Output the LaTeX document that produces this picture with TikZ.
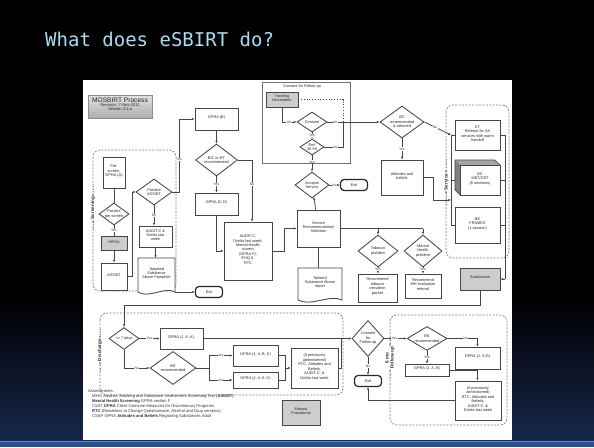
\documentclass[tikz,border=0pt]{standalone}
\usepackage{fontspec}
\setmainfont{Liberation Sans}
\newfontfamily\monof{DejaVu Sans Mono}
\usetikzlibrary{shapes.geometric,arrows.meta,fit,calc}
\definecolor{ttl}{RGB}{168,220,242}
\definecolor{navy}{RGB}{22,38,76}
\definecolor{bandb}{RGB}{44,78,138}
\definecolor{bandl}{RGB}{90,140,210}
\definecolor{lc}{RGB}{70,70,70}
\definecolor{gfill}{RGB}{205,205,205}
\tikzset{
 ft/.style={font=\fontsize{3.85}{4.45}\selectfont, text=black!85},
 box/.style={draw=lc, line width=0.85pt, fill=white, inner sep=0pt, align=center, ft},
 gbox/.style={box, fill=gfill},
 dia/.style={diamond, draw=lc, line width=0.85pt, fill=white, inner sep=0pt, align=center, ft},
 term/.style={draw=black!85, line width=1.2pt, fill=white, rounded corners=3.5pt, inner sep=0pt, minimum width=27pt, minimum height=11pt, ft},
 ln/.style={draw=lc, line width=0.75pt},
 arr/.style={ln, -{Latex[length=2.6pt,width=2.3pt]}},
 grp/.style={draw=black!50, line width=0.7pt, dash pattern=on 2pt off 1.4pt, rounded corners=7pt},
 lab/.style={fill=white, inner sep=0.4pt, font=\fontsize{3.4}{3.8}\selectfont, text=black!80},
 glab/.style={fill=white, inner sep=0.6pt, rotate=90, align=center, font=\bfseries\fontsize{4.6}{5.2}\selectfont, text=black!85},
 dtip/.style={draw=black!50, dotted, line width=0.7pt, -{Latex[length=2pt,width=2pt]}},
 docline/.style={draw=lc, line width=0.85pt, fill=white},
}
\newcommand\docshape[6]{%
 \draw[docline] (#2,#3) -- (#4,#3) -- (#4,{#5-1}) .. controls ({#2+0.72*(#4-#2)},{#5-7}) and ({#2+0.3*(#4-#2)},{#5+6}) .. (#2,{#5-1}) -- cycle;
 \node[ft, align=center, inner sep=0pt] (#1) at ({(#2+#4)/2},{(#3+#5)/2-2}) {#6};
 \coordinate (#1-n) at ({(#2+#4)/2},#3);
 \coordinate (#1-c) at (#4,{#5-1});
}
\begin{document}
\begin{tikzpicture}[x=1pt,y=-1pt]
\useasboundingbox (0,0) rectangle (594,447);
\fill[black] (0,0) rectangle (594,447);
\shade[top color=black, bottom color=navy] (0,300) rectangle (594,441);
\fill[bandb] (0,441) rectangle (594,447);
\draw[bandl, line width=0.8pt] (0,441.4) -- (594,441.4);
\node[anchor=base west, inner sep=0pt, text=ttl, font=\monof\fontsize{19}{22}\selectfont] (title) at (45,46) {What does eSBIRT do?};
\fill[white] (83,80) rectangle (512,440);

% group frames
\draw[grp] (93,150) rectangle (176,291);
\draw[grp] (446,105) rectangle (509,258);
\draw[grp] (100,313) rectangle (343,395);
\draw[grp] (390,315) rectangle (507,425);
\node[box, draw=black!55, line width=0.9pt, fit={(262,82) (350,163)}] (cfu) {};
\node[ft] (cfulab) at (302,87) {Consent for Follow-up};

% title box
\node[box, top color=black!12, bottom color=black!32, draw=black!45, fit={(88,95) (152,118)}] (mos)
 {{\fontsize{6.6}{7.4}\selectfont MOSBIRT Process}\\{\fontsize{4.1}{5}\selectfont Revision: 7-Nov-2011}\\{\fontsize{4.1}{5}\selectfont Version 3.1.a}};

% screening
\node[box, fit={(103,157) (125,188)}] (pre) {Pre-\\screen,\\GPRA (A)};
\node[dia, minimum width=30pt, minimum height=22pt, aspect=1.4] (ppre) at (114,214) {Positive\\pre-screen};
\node[gbox, fit={(101,236) (127,250)}] (hipaa) {HIPAA};
\node[box, fit={(101,263) (127,290)}] (assist) {ASSIST};
\node[dia, minimum width=36pt, minimum height=26pt, aspect=1.4] (pass) at (154,192) {Positive\\ASSIST};
\node[box, fit={(139,226) (172,247)}] (aud1) {AUDIT-C \&\\Drinks last\\week};
\docshape{pamph}{138}{258}{175}{293}{Targeted\\Substance\\Abuse Pamphlet}
\node[term] (exit1) at (209,292) {Exit};

% middle column
\node[box, fit={(195,108) (238,130)}] (gprab) {GPRA (B)};
\node[dia, minimum width=42pt, minimum height=32pt, aspect=1.3] (bic) at (216.5,160) {BIC or RT\\recommended};
\node[box, fit={(195,193) (238,215)}] (gprac) {GPRA (C-D)};
\node[box, fit={(224,222) (272,280)}] (aud2) {AUDIT-C,\\Drinks last week,\\Mental Health\\screen\\(GPRA F),\\PHQ 9,\\RTC};
\node[box, fit={(297,210) (340,247)}] (srv) {Service\\Recommendation/\\Selection};
\docshape{tail}{298}{268}{342}{301}{Tailored\\Substance Abuse\\report}

% consent box content
\node[gbox, fit={(266,92) (298,107)}] (track) {Tracking\\information};
\node[dia, minimum width=30pt, minimum height=20pt, aspect=1.55] (cons) at (312,122) {Consent};
\node[dia, minimum width=24pt, minimum height=16pt, aspect=1.5] (enr) at (312,147) {Enrl\\30-59};
\node[dia, minimum width=34pt, minimum height=26pt, aspect=1.3] (acc) at (312,185) {Accepts\\Service};
\node[term] (exit2) at (354,185) {Exit};

% problems
\node[dia, minimum width=40pt, minimum height=32pt, aspect=1.2] (tob) at (378,251) {Tobacco\\problem};
\node[dia, minimum width=38pt, minimum height=32pt, aspect=1.15] (mh) at (423,251) {Mental\\Health\\problem};
\node[box, fit={(358,274) (397,302)}] (tobr) {Recommend\\tobacco\\cessation\\packet};
\node[box, fit={(405,274) (441,298)}] (mhr) {Recommend\\MH evaluation\\referral};

% right side
\node[dia, minimum width=44pt, minimum height=32pt, aspect=1.4] (bc) at (402,122) {BC\\recommended\\\& selected};
\node[box, fit={(381,160) (423,195)}] (att) {Attitudes and\\beliefs};
\node[box, fit={(455,120) (500,150)}] (kt) {KT\\Referral for SA\\services with warm\\handoff};
\fill[black!35] (460,165) -- (455,160) -- (495,160) -- (500,165) -- cycle;
\fill[black!50] (460,165) -- (455,160) -- (455,190) -- (460,195) -- cycle;
\draw[lc, line width=0.7pt] (500,165) -- (495,160) -- (455,160) -- (455,190) -- (460,195);
\node[box, fit={(460,165) (500,195)}] (bcb) {BC\\MET/CBT\\(6 sessions)};
\node[box, fit={(455,207) (500,243)}] (be) {BE\\FRAMES\\(1 session)};
\node[gbox, fit={(460,268) (500,290)}] (sat) {Satisfaction};

% discharge
\node[dia, minimum width=30pt, minimum height=22pt, aspect=1.4] (d7) at (124,338.5) {<= 7 days};
\node[box, fit={(160,328) (203,349)}] (gjak) {GPRA (J, A, K),};
\node[dia, minimum width=46pt, minimum height=33pt, aspect=1.4] (bed) at (173,368) {BE\\recommended};
\node[box, fit={(233,345) (278,366)}] (gjabk) {GPRA (J, A, B, K)};
\node[box, fit={(233,372) (278,388)}] (gjagk) {GPRA (J, A-G, K)};
\node[box, fit={(291,348) (338,388)}] (ipd) {(if previously\\administered)\\RTC, Attitudes and\\Beliefs,\\AUDIT-C, \&\\Drinks last week};
\node[dia, minimum width=32pt, minimum height=36pt, aspect=0.9] (cfd) at (368,338.5) {Consent\\for\\Follow-up};
\node[term] (exit3) at (368,381) {Exit};

% follow-up
\node[dia, minimum width=40pt, minimum height=24pt, aspect=1.6] (bef) at (427,338.5) {BE\\recommended};
\node[box, fit={(405,364) (449,376)}] (gjab) {GPRA (J, A, B)};
\node[box, fit={(455,347) (500,369)}] (gjag) {GPRA (J, A-G)};
\node[box, fit={(455,381) (501,420)}] (ipf) {(if previously\\administered)\\RTC, Attitudes and\\Beliefs,\\AUDIT-C, \&\\Drinks last week};

\node[gbox, fit={(282,400) (320,425)}] (man) {Manual\\Procedures};

% group labels
\node[glab] (lscr) at (93,208) {Screening};
\node[glab] (lsrv) at (446,182) {Service};
\node[glab] (ldis) at (100,350) {Discharge};
\node[glab] (lfol) at (390,358) {6 mo\\Follow-up};
\draw[dtip] (lscr.east) ++(0,-10) -- (lscr.east);
\draw[dtip] (lscr.west) ++(0,10) -- (lscr.west);
\draw[dtip] (lsrv.east) ++(0,-14) -- (lsrv.east);
\draw[dtip] (lsrv.west) ++(0,14) -- (lsrv.west);
\draw[dtip] (ldis.east) ++(0,-9) -- (ldis.east);
\draw[dtip] (ldis.west) ++(0,9) -- (ldis.west);
\draw[dtip] (lfol.east) ++(0,-9) -- (lfol.east);
\draw[dtip] (lfol.west) ++(0,9) -- (lfol.west);

% coordinates
\coordinate (c1) at (132,192);
\coordinate (c2) at (179,119);
\coordinate (c3) at (252,160);
\coordinate (c4) at (284,251);
\coordinate (c5) at (284,228.5);
\coordinate (c6) at (343,99.5);
\coordinate (c7) at (343,122);
\coordinate (lb1) at (451,135);
\coordinate (lb2) at (451,225);
\coordinate (lb3) at (451,180);
\coordinate (lb4) at (451,200);
\coordinate (bcl) at (455,180);
\coordinate (c9) at (433,177.5);
\coordinate (c10) at (433,200);
\coordinate (rb1) at (505,135);
\coordinate (rb2) at (505,225);
\coordinate (rb3) at (505,180);
\coordinate (rb5) at (505,279);
\coordinate (c11) at (480,305);
\coordinate (c12) at (124,305);
\coordinate (c13) at (209,368);
\coordinate (c14) at (285,368);
\coordinate (c15) at (341,368);
\coordinate (c16) at (341,338.5);

% screening connectors
\draw[ln] (pre) -- (ppre);
\draw[ln] (ppre) -- node[lab]{Yes} (hipaa);
\draw[arr] (hipaa) -- (assist);
\draw[arr] (assist.east) -- (assist.east -| c1) -- (c1) -- (pass.west);
\draw[arr] (pass.east) -- (pass.east -| c2) -- node[lab, pos=0.45]{Yes} (c2) -- (gprab.west);
\draw[arr] (pass.south) -- node[lab]{No} (pass.south |- aud1.north);
\draw[arr] (aud1.south) -- (aud1.south |- pamph-n);
\draw[arr] (pamph-c) -- (exit1.west);

% middle connectors
\draw[arr] (gprab) -- (bic);
\draw[arr] (bic) -- node[lab]{Yes} (gprac);
\draw[arr] (bic.east) -- (c3) -- node[lab, pos=0.4]{No} (c3 |- aud2.north);
\draw[arr] (gprac.south) |- (aud2.west);
\draw[arr] (aud2.east) -- (c4) -- (c5) -- (srv.west);
\draw[arr] (srv) -- (acc);
\draw[ln] (srv.south) -- (srv.south |- tail-n);
\draw[arr] (acc) -- node[lab]{No} (exit2);
\draw[ln] (srv.east) -- (srv.east -| mh.north);
\draw[arr] (srv.east -| tob.north) -- (tob.north);
\draw[arr] (srv.east -| mh.north) -- (mh.north);
\draw[arr] (tob) -- node[lab, pos=0.35]{Yes} (tob.south |- tobr.north);
\draw[arr] (mh) -- node[lab, pos=0.35]{Yes} (mh.south |- mhr.north);

% consent connectors
\draw[arr] (track.south) |- node[lab, pos=0.75]{Yes} (cons.west);
\draw[ln, dotted] (track.east) -- (c6) -- (c7);
\draw[ln] (cons.east) -- node[lab]{No} (c7);
\draw[arr] (c7) -- (bc.west);
\draw[ln] (enr.east) -| node[lab, pos=0.3]{No} (c7);
\draw[arr] (cons.south) -- node[lab]{Yes} (enr.north);
\draw[arr] (enr.south) -- node[lab, pos=0.4]{Yes} (acc.north);

% right connectors
\draw[arr] (bc) -- node[lab]{Yes} (att);
\draw[arr] (bc.east) -- node[lab, pos=0.4]{No} (lb1);
\draw[ln] (lb1) -- (lb1 -| kt.west);
\draw[ln] (lb1) -- (lb2) -- (lb2 -| be.west);
\draw[ln] (lb3) -- (bcl);
\draw[arr] (att.east) -- (c9) -- (c10) -- (lb4);
\draw[ln] (kt.east |- rb1) -- (rb1);
\draw[ln] (bcb.east |- rb3) -- (rb3);
\draw[ln] (be.east |- rb2) -- (rb2);
\draw[ln] (rb1) -- (rb5);
\draw[arr] (rb5) -- (sat.east);
\draw[arr] (sat.south) -- (c11) -- (c12) -- (d7.north);

% discharge connectors
\draw[arr] (d7) -- node[lab]{Yes} (gjak);
\draw[arr] (d7.south) |- node[lab, pos=0.75]{No} (bed.west);
\draw[ln] (bed.east) -- (c13);
\draw[arr] (c13) |- node[lab, pos=0.75]{Yes} (gjabk.west);
\draw[arr] (c13) |- node[lab, pos=0.75]{No} (gjagk.west);
\draw[ln] (gjabk.east) -| (c14);
\draw[ln] (gjagk.east) -| (c14);
\draw[arr] (c14) -- (ipd.west);
\draw[ln] (ipd.east) -- (c15) -- (c16);
\draw[ln] (gjak.east) -- (c16);
\draw[arr] (c16) -- (cfd.west);
\draw[arr] (cfd) -- node[lab, pos=0.45]{Yes} (bef);
\draw[arr] (cfd) -- node[lab]{No} (exit3);

% follow-up connectors
\draw[arr] (bef.south) -- node[lab]{Yes} (bef.south |- gjab.north);
\draw[arr] (bef.east) -| node[lab, pos=0.3]{No} (gjag.north);
\draw[ln] (gjab.east) -- (gjab.east -| gjag.south);
\draw[arr] (gjag.south) -- (gjag.south |- ipf.north);
\draw[arr] (ipf.west) -| (exit3.south);

% assessments legend
\node[anchor=north west, align=left, inner sep=0pt, font=\fontsize{4.1}{5.1}\selectfont, text=black!80] (assess) at (88,389)
 {Assessments:\\
 \hspace*{4pt}WHO Alcohol, Smoking and Substance Involvement Screening Test (\textbf{ASSIST})\\
 \hspace*{4pt}\textbf{Mental Health Screening} GPRA section F\\
 \hspace*{4pt}CSAT \textbf{GPRA} Client Outcome Measures for Discretionary Programs\\
 \hspace*{4pt}\textbf{RTC} (Readiness to Change Questionnaire, Alcohol and Drug versions)\\
 \hspace*{4pt}CSAP GPRA \textbf{Attitudes and Beliefs} Regarding Substances Adult};
\end{tikzpicture}
\end{document}
